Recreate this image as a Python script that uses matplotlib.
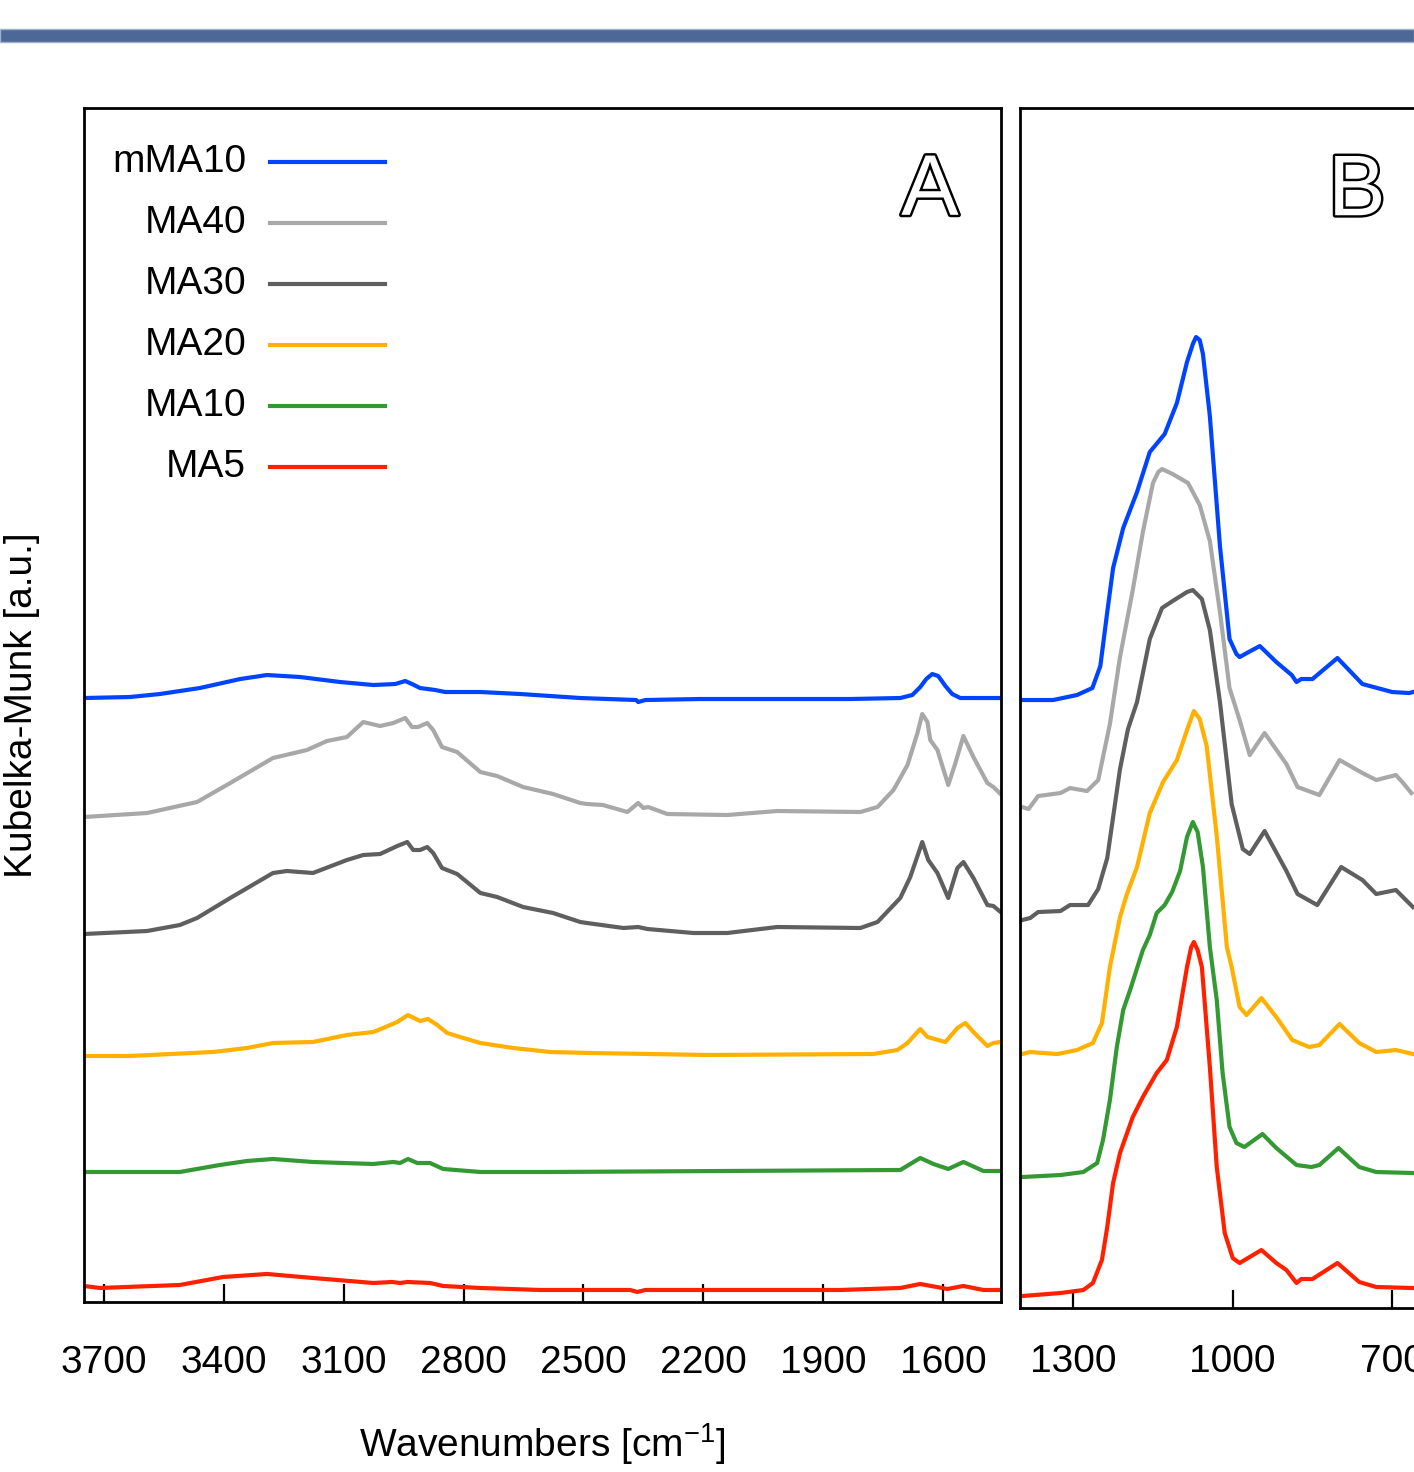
import matplotlib
matplotlib.use("Agg")
import matplotlib.pyplot as plt
import matplotlib.patheffects as pe
from matplotlib.patches import Rectangle

plt.rcParams['font.family'] = ['Liberation Sans', 'DejaVu Sans']

# sample names, top to bottom (legend order)
names = ["mMA10", "MA40", "MA30", "MA20", "MA10", "MA5"]
colors = ["#0044ff", "#a8a8a8", "#5f5f5f", "#ffb000", "#339933", "#ff2000"]

# ---- panel A : 3750 - 1455 cm-1, offset Kubelka-Munk traces (a.u.) ----
a_wn_mma10 = [3750, 3635, 3560, 3460, 3359, 3292, 3209, 3109, 3026, 2971, 2946, 2929, 2909, 2871,
              2846, 2758, 2658, 2508, 2368, 2363, 2345, 2208, 1832, 1707, 1677, 1657, 1642, 1627,
              1612, 1594, 1577, 1557, 1454]
a_km_mma10 = [604, 605, 608, 614, 623, 627, 625, 620, 617, 618, 621, 618, 614, 612,
              610, 610, 608, 604, 602, 600, 602, 603, 603, 604, 607, 615, 623, 628,
              626, 616, 608, 604, 604]

a_wn_ma40 = [3750, 3592, 3467, 3384, 3277, 3192, 3142, 3092, 3051, 3009, 2976, 2946, 2929, 2914,
             2891, 2876, 2854, 2816, 2758, 2716, 2651, 2576, 2508, 2491, 2451, 2390, 2363, 2350,
             2338, 2290, 2140, 2015, 1807, 1764, 1724, 1689, 1664, 1652, 1639, 1632, 1614, 1587,
             1569, 1549, 1524, 1489, 1474, 1456]
a_km_ma40 = [485, 489, 500, 519, 544, 552, 561, 565, 580, 576, 579, 584, 575, 575,
             579, 572, 555, 550, 530, 526, 515, 508, 499, 498, 497, 490, 499, 494,
             495, 488, 487, 491, 490, 495, 512, 537, 569, 588, 580, 562, 552, 517,
             539, 566, 545, 519, 515, 508]

a_wn_ma30 = [3750, 3592, 3510, 3467, 3384, 3277, 3242, 3177, 3092, 3051, 3009, 2966, 2941, 2926,
             2909, 2891, 2876, 2854, 2816, 2758, 2716, 2651, 2576, 2508, 2491, 2400, 2363, 2340,
             2225, 2140, 2015, 1807, 1764, 1707, 1682, 1652, 1637, 1614, 1587, 1564, 1549, 1524,
             1489, 1474, 1456]
a_km_ma30 = [368, 371, 377, 384, 404, 429, 431, 429, 442, 447, 448, 456, 460, 452,
             452, 455, 449, 434, 428, 409, 405, 395, 389, 380, 379, 374, 375, 373,
             369, 369, 375, 374, 380, 404, 425, 460, 442, 429, 404, 434, 440, 424,
             397, 396, 390]

a_wn_ma20 = [3750, 3635, 3427, 3342, 3277, 3177, 3092, 3026, 3001, 2966, 2939, 2909, 2889, 2866,
             2841, 2809, 2758, 2676, 2583, 2483, 2190, 1774, 1714, 1689, 1657, 1639, 1594, 1564,
             1544, 1524, 1489, 1474, 1456]
a_km_ma20 = [246, 246, 250, 254, 259, 260, 267, 270, 274, 280, 287, 281, 283, 277,
             269, 265, 259, 254, 250, 249, 247, 248, 252, 259, 273, 265, 260, 274,
             279, 270, 256, 259, 260]

a_wn_ma10 = [3750, 3510, 3410, 3342, 3277, 3177, 3026, 2976, 2959, 2939, 2916, 2884, 2851, 2758,
             2583, 1707, 1657, 1624, 1587, 1549, 1499, 1456]
a_km_ma10 = [130, 130, 137, 141, 143, 140, 138, 140, 139, 143, 139, 139, 133, 130,
             130, 132, 144, 138, 133, 140, 131, 131]

a_wn_ma5 = [3750, 3710, 3510, 3402, 3292, 3177, 3026, 2979, 2959, 2941, 2884, 2851, 2758, 2608,
            2383, 2365, 2345, 1857, 1707, 1657, 1589, 1549, 1499, 1456]
a_km_ma5 = [16, 14, 17, 25, 28, 24, 19, 20, 19, 20, 19, 16, 14, 12,
            12, 10, 12, 12, 14, 18, 13, 16, 12, 12]

# ---- panel B : 1400 - 660 cm-1 ----
b_wn_mma10 = [1396, 1338, 1293, 1264, 1249, 1236, 1225, 1206, 1180, 1156, 1128, 1105, 1086, 1075,
              1069, 1062, 1056, 1043, 1024, 1006, 993, 987, 970, 949, 918, 889, 880, 871, 850,
              803, 756, 700, 668, 661]
b_km_mma10 = [602, 602, 607, 614, 636, 690, 734, 774, 810, 850, 868, 899, 940, 958,
              965, 962, 948, 886, 756, 663, 648, 645, 650, 656, 640, 627, 620, 623, 623,
              644, 618, 610, 609, 610]

b_wn_ma40 = [1396, 1384, 1366, 1324, 1306, 1274, 1253, 1231, 1212, 1188, 1169, 1150, 1140, 1133,
             1113, 1084, 1062, 1043, 1024, 1006, 987, 968, 940, 899, 878, 837, 799, 756, 730,
             693, 681, 664]
b_km_ma40 = [495, 493, 506, 509, 514, 511, 522, 578, 645, 712, 770, 819, 830, 833,
             828, 819, 797, 761, 690, 614, 582, 547, 569, 538, 515, 507, 542, 529, 522,
             527, 520, 509]

b_wn_ma30 = [1396, 1381, 1366, 1324, 1306, 1272, 1253, 1236, 1212, 1197, 1180, 1156, 1133, 1113,
             1086, 1075, 1058, 1043, 1024, 1002, 981, 968, 940, 899, 878, 841, 796, 756, 730, 693,
             661]
b_km_ma30 = [382, 384, 390, 391, 397, 397, 413, 444, 533, 573, 600, 663, 694, 701,
             710, 712, 703, 672, 600, 498, 453, 448, 471, 431, 408, 397, 435, 422, 408, 412,
             395]

b_wn_ma20 = [1396, 1381, 1330, 1293, 1263, 1246, 1231, 1212, 1199, 1180, 1156, 1131, 1105, 1084,
             1073, 1062, 1049, 1030, 1011, 1002, 987, 974, 946, 918, 888, 856, 837, 799, 762, 730,
             693, 661]
b_km_ma20 = [248, 250, 248, 252, 259, 279, 335, 385, 408, 435, 489, 520, 542, 575,
             591, 583, 556, 466, 355, 335, 295, 287, 304, 285, 262, 255, 257, 278, 259, 250,
             252, 248]

b_wn_ma10 = [1396, 1324, 1281, 1255, 1244, 1231, 1218, 1206, 1193, 1169, 1156, 1143, 1128, 1114,
             1099, 1086, 1075, 1066, 1056, 1043, 1030, 1019, 1006, 993, 978, 944, 918, 880, 852,
             837, 801, 762, 730, 661]
b_km_ma10 = [125, 127, 130, 139, 162, 202, 255, 292, 312, 352, 367, 389, 397, 410,
             431, 465, 480, 470, 435, 355, 302, 229, 175, 159, 155, 168, 154, 137, 135,
             137, 154, 135, 130, 129]

b_wn_ma5 = [1396, 1324, 1281, 1263, 1246, 1236, 1225, 1212, 1188, 1169, 1143, 1124, 1105, 1086,
            1078, 1073, 1066, 1058, 1043, 1030, 1015, 1000, 987, 946, 918, 899, 880, 871, 850,
            803, 762, 730, 661]
b_km_ma5 = [6, 9, 12, 19, 42, 75, 119, 149, 185, 205, 229, 242, 275, 335,
            355, 360, 352, 335, 235, 135, 69, 44, 39, 52, 39, 32, 19, 23, 23,
            39, 20, 15, 14]

a_series = [(a_wn_mma10, a_km_mma10), (a_wn_ma40, a_km_ma40), (a_wn_ma30, a_km_ma30),
            (a_wn_ma20, a_km_ma20), (a_wn_ma10, a_km_ma10), (a_wn_ma5, a_km_ma5)]
b_series = [(b_wn_mma10, b_km_mma10), (b_wn_ma40, b_km_ma40), (b_wn_ma30, b_km_ma30),
            (b_wn_ma20, b_km_ma20), (b_wn_ma10, b_km_ma10), (b_wn_ma5, b_km_ma5)]

a_ticks = [3700, 3400, 3100, 2800, 2500, 2200, 1900, 1600]
b_ticks = [1300, 1000, 700]

FS = 28
LW = 3.0

fig = plt.figure(figsize=(14.14, 14.72), dpi=100)

# header bar
fig.patches.append(Rectangle((0, 0.9715), 1, 0.0088, transform=fig.transFigure,
                             facecolor="#4d6897", edgecolor="#9fb0cc", linewidth=1))

axA = fig.add_axes([0.0594, 0.1155, 0.6485, 0.8111])
axB = fig.add_axes([0.7214, 0.1114, 0.2786, 0.8152])

for (wn, km), c in zip(a_series, colors):
    axA.plot(wn, km, color=c, lw=LW, solid_joinstyle="round")
for (wn, km), c in zip(b_series, colors):
    axB.plot(wn, km, color=c, lw=LW, solid_joinstyle="round")

axA.set_xlim(3750, 1455)
axA.set_ylim(0, 1194)
axB.set_xlim(1400, 659)
axB.set_ylim(-6, 1194)

for ax, ticks, pad in ((axA, a_ticks, 31), (axB, b_ticks, 26)):
    ax.set_xticks(ticks)
    ax.set_yticks([])
    ax.tick_params(axis="x", direction="in", length=13, width=1.6, labelsize=FS, pad=pad)
    for s in ax.spines.values():
        s.set_linewidth(2)
axB.spines["right"].set_visible(False)

axA.set_xlabel("Wavenumbers [cm$^{\\mathregular{-1}}$]", fontsize=FS, labelpad=29)
fig.text(0.0156, 0.521, "Kubelka-Munk [a.u.]", rotation=90, ha="center", va="center", fontsize=FS)

# legend: label on the left, line sample on the right
for i, (n, c) in enumerate(zip(names, colors)):
    yy = 0.9550 - i * 0.0511
    axA.text(0.1767, yy, n, transform=axA.transAxes, ha="right", va="center", fontsize=FS)
    axA.plot([0.203, 0.328], [yy, yy], transform=axA.transAxes, color=c, lw=3)

# hollow panel letters
outline = [pe.withStroke(linewidth=3.5, foreground="black")]
axA.text(0.9226, 0.929, "A", transform=axA.transAxes, ha="center", va="center",
         fontsize=62, color="white", path_effects=outline)
axB.text(0.855, 0.929, "B", transform=axB.transAxes, ha="center", va="center",
         fontsize=62, color="white", path_effects=outline)

fig.savefig("out.png", dpi=100)
